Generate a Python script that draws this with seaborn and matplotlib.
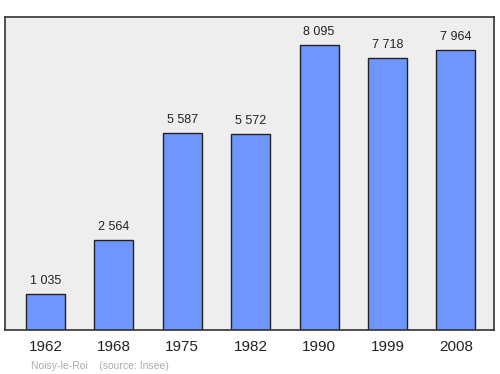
import matplotlib
matplotlib.use("Agg")
import matplotlib.pyplot as plt
import seaborn as sns
import pandas as pd

years = ["1962", "1968", "1975", "1982", "1990", "1999", "2008"]
population = [1035, 2564, 5587, 5572, 8095, 7718, 7964]
labels = ["1 035", "2 564", "5 587", "5 572", "8 095", "7 718", "7 964"]

df = pd.DataFrame({"year": years, "pop": population})

sns.set_theme(style="white")
plt.rcParams['font.family'] = ['Liberation Sans', 'DejaVu Sans']

fig = plt.figure(figsize=(5, 3.74), dpi=100)
ax = fig.add_axes([0.01, 0.1176, 0.978, 0.837])
ax.set_facecolor("#eeeeee")

sns.barplot(data=df, x="year", y="pop", ax=ax, color="#6f96ff", saturation=1,
            width=0.57, edgecolor="#222222", linewidth=1)

for i, (v, t) in enumerate(zip(population, labels)):
    ax.annotate(t, (i, v), xytext=(0, 5), textcoords="offset points",
                ha="center", va="bottom", fontsize=9, color="#222222")

ax.set_xlim(-0.592, 6.557)
ax.set_ylim(0, 8890)
ax.set_yticks([])
ax.set_xlabel("")
ax.set_ylabel("")
ax.tick_params(axis="x", length=0, labelsize=11, pad=7, colors="#222222")
for s in ax.spines.values():
    s.set_visible(True)
    s.set_color("#333333")
    s.set_linewidth(1.2)

fig.text(0.062, 0.014, "Noisy-le-Roi    (source: Insee)", fontsize=7.5, color="#aaaaaa")

fig.savefig("out.png", dpi=100)
